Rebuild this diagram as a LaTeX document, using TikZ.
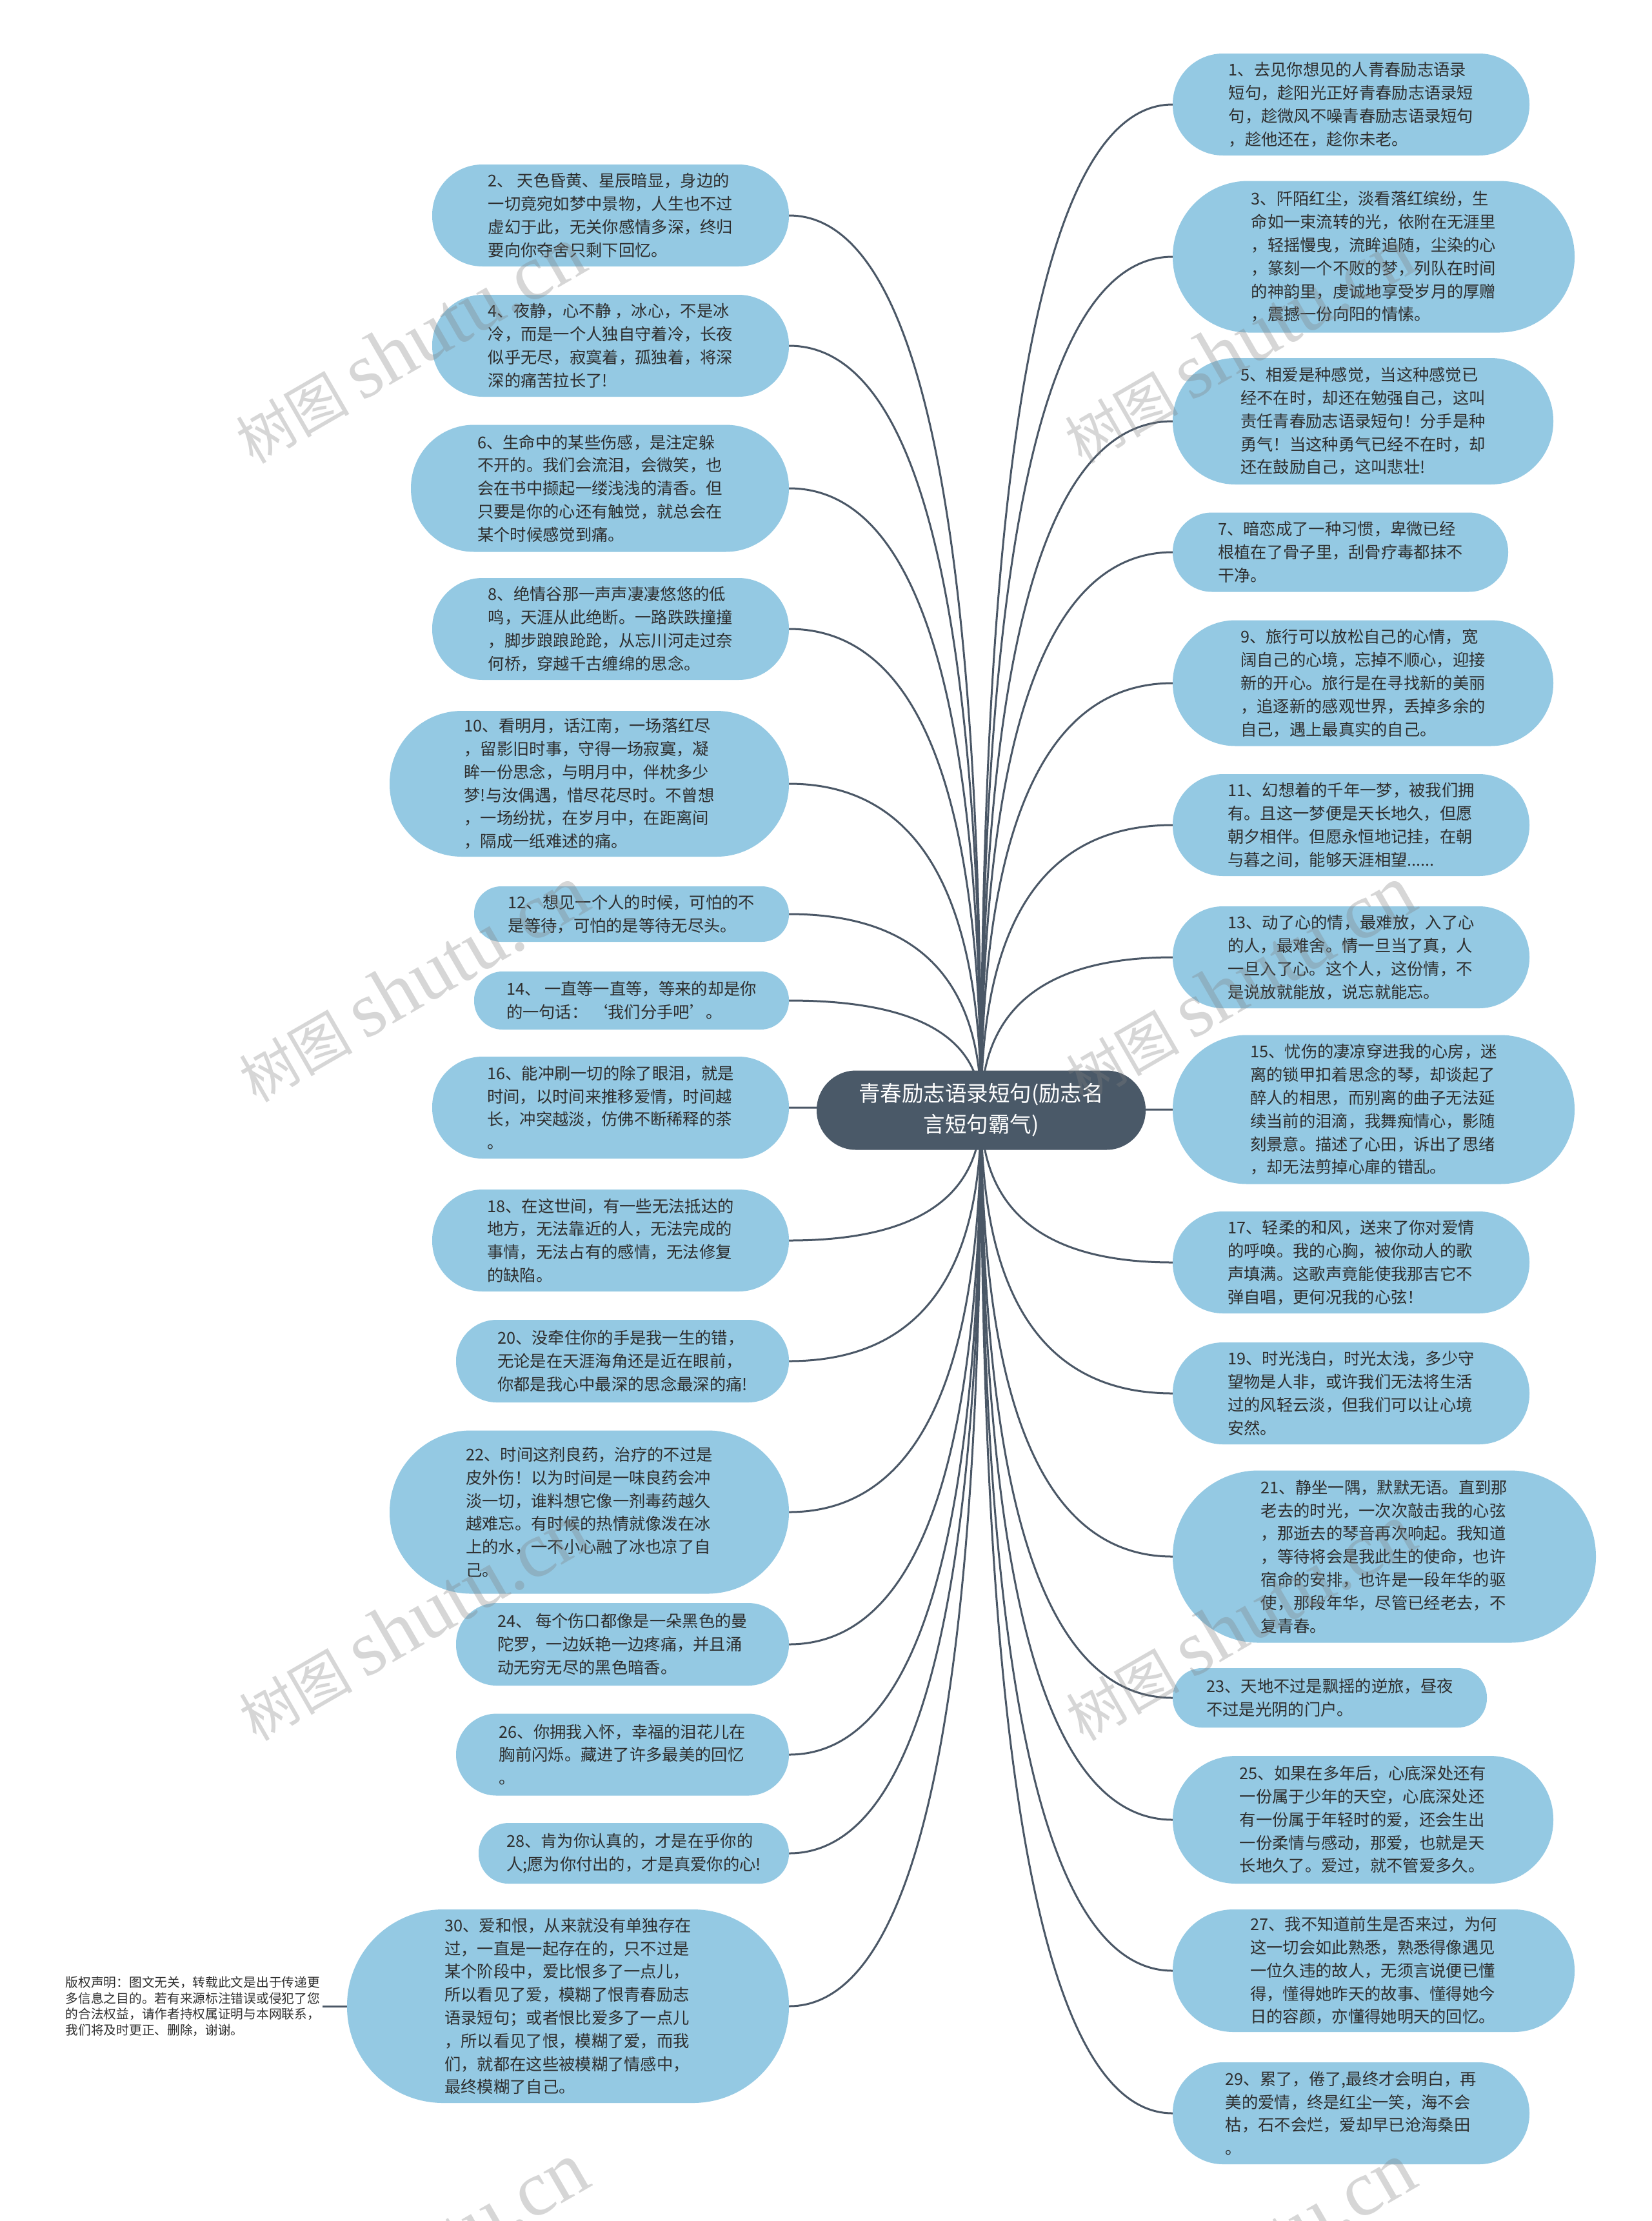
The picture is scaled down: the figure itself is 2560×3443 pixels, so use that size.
\documentclass[tikz,border=0pt]{standalone}
\usepackage{fontspec}
\setmainfont{Noto Sans CJK SC}
\newfontfamily\wmfont{Liberation Serif}
\usetikzlibrary{calc}
\pgfdeclarelayer{background}
\pgfsetlayers{background,main}
\definecolor{boxblue}{HTML}{94C9E3}
\definecolor{centerfill}{HTML}{4A5968}
\definecolor{linecol}{HTML}{4A5766}
\definecolor{txtc}{HTML}{2E2E2E}
\newcommand\leaffont{\fontsize{25.3pt}{35.8pt}\selectfont}
\newcommand\linkR[1]{\draw[link] (c.center) .. controls ($(c.center)!0.667!(c.center |- #1.west)$) and ($(#1.west)!0.667!(c.center |- #1.west)$) .. (#1.west);}
\newcommand\linkL[1]{\draw[link] (c.center) .. controls ($(c.center)!0.667!(c.center |- #1.east)$) and ($(#1.east)!0.667!(c.center |- #1.east)$) .. (#1.east);}
\tikzset{
  leaf/.style={fill=boxblue, draw=none, text=txtc, font=\leaffont, align=left, inner sep=0pt},
  dims/.style n args={3}{minimum width=#1pt, minimum height=#2pt, rounded corners=#3pt},
  link/.style={draw=linecol, line width=3pt},
  root/.style={fill=centerfill, text=white, font=\fontsize{33.5pt}{48pt}\selectfont, align=center, inner sep=0pt},
  cpy/.style={text=txtc, font=\fontsize{19.7pt}{24.5pt}\selectfont, align=left, inner sep=4pt},
  wm/.style={text=gray, opacity=0.32, rotate=30, inner sep=0pt}
}
\begin{document}
\begin{tikzpicture}[x=1pt,y=-1pt]
\useasboundingbox (0,0) rectangle (2560,3443);
\begin{pgfonlayer}{background}
\fill[white] (0,0) rectangle (2560,3443);
\end{pgfonlayer}

% center
\node[root, dims={510}{123}{61}] (c) at (1521,1721) {青春励志语录短句(励志名\\言短句霸气)};

% left nodes
\node[leaf, dims={553}{158}{78}] (n2) at (946.5,334) {2、 天色昏黄、星辰暗显，身边的\\一切竟宛如梦中景物，人生也不过\\虚幻于此，无关你感情多深，终归\\要向你夺舍只剩下回忆。};
\node[leaf, dims={553}{158}{78}] (n4) at (946.5,536) {4、夜静，心不静 ，冰心，不是冰\\冷，而是一个人独自守着冷，长夜\\似乎无尽，寂寞着，孤独着，将深\\深的痛苦拉长了!};
\node[leaf, dims={586}{197}{98}] (n6) at (930,757) {6、生命中的某些伤感，是注定躲\\不开的。我们会流泪，会微笑，也\\会在书中撷起一缕浅浅的清香。但\\只要是你的心还有触觉，就总会在\\某个时候感觉到痛。};
\node[leaf, dims={553}{158}{78}] (n8) at (946.5,975) {8、绝情谷那一声声凄凄悠悠的低\\鸣，天涯从此绝断。一路跌跌撞撞\\，脚步踉踉跄跄，从忘川河走过奈\\何桥，穿越千古缠绵的思念。};
\node[leaf, dims={619}{226}{112}] (n10) at (913.5,1215) {10、看明月，话江南，一场落红尽\\，留影旧时事，守得一场寂寞，凝\\眸一份思念，与明月中，伴枕多少\\梦!与汝偶遇，惜尽花尽时。不曾想\\，一场纷扰，在岁月中，在距离间\\，隔成一纸难述的痛。};
\node[leaf, dims={488}{86}{42}] (n12) at (979,1417) {12、想见一个人的时候，可怕的不\\是等待，可怕的是等待无尽头。};
\node[leaf, dims={488}{90}{44}] (n14) at (979,1551) {14、 一直等一直等，等来的却是你\\的一句话：\ ‘我们分手吧’。};
\node[leaf, dims={553}{158}{78}] (n16) at (946.5,1717) {16、能冲刷一切的除了眼泪，就是\\时间，以时间来推移爱情，时间越\\长，冲突越淡，仿佛不断稀释的茶\\。};
\node[leaf, dims={553}{158}{78}] (n18) at (946.5,1923) {18、在这世间，有一些无法抵达的\\地方，无法靠近的人，无法完成的\\事情，无法占有的感情，无法修复\\的缺陷。};
\node[leaf, dims={516}{128}{63}] (n20) at (965,2110) {20、没牵住你的手是我一生的错，\\无论是在天涯海角还是近在眼前，\\你都是我心中最深的思念最深的痛!};
\node[leaf, dims={619}{253}{126}] (n22) at (913.5,2344) {22、时间这剂良药，治疗的不过是\\皮外伤！以为时间是一味良药会冲\\淡一切，谁料想它像一剂毒药越久\\越难忘。有时候的热情就像泼在冰\\上的水，一不小心融了冰也凉了自\\己。};
\node[leaf, dims={516}{128}{63}] (n24) at (965,2549) {24、 每个伤口都像是一朵黑色的曼\\陀罗，一边妖艳一边疼痛，并且涌\\动无穷无尽的黑色暗香。};
\node[leaf, dims={516}{127}{63}] (n26) at (965,2720) {26、你拥我入怀，幸福的泪花儿在\\胸前闪烁。藏进了许多最美的回忆\\。};
\node[leaf, dims={481}{94}{46}] (n28) at (982.5,2873) {28、肯为你认真的，才是在乎你的\\人;愿为你付出的，才是真爱你的心!};
\node[leaf, dims={685}{300}{149}] (n30) at (880.5,3110) {30、爱和恨，从来就没有单独存在\\过，一直是一起存在的，只不过是\\某个阶段中，爱比恨多了一点儿，\\所以看见了爱，模糊了恨青春励志\\语录短句；或者恨比爱多了一点儿\\，所以看见了恨，模糊了爱，而我\\们，就都在这些被模糊了情感中，\\最终模糊了自己。};

% right nodes
\node[leaf, dims={553}{158}{78}] (n1) at (2094.5,162) {1、去见你想见的人青春励志语录\\短句，趁阳光正好青春励志语录短\\句，趁微风不噪青春励志语录短句\\，趁他还在，趁你未老。};
\node[leaf, dims={623}{235}{117}] (n3) at (2129.5,398) {3、阡陌红尘，淡看落红缤纷，生\\命如一束流转的光，依附在无涯里\\，轻摇慢曳，流眸追随，尘染的心\\，篆刻一个不败的梦，列队在时间\\的神韵里，虔诚地享受岁月的厚赠\\，震撼一份向阳的情愫。};
\node[leaf, dims={590}{196}{97}] (n5) at (2113,653) {5、相爱是种感觉，当这种感觉已\\经不在时，却还在勉强自己，这叫\\责任青春励志语录短句！分手是种\\勇气！当这种勇气已经不在时，却\\还在鼓励自己，这叫悲壮!};
\node[leaf, dims={520}{123}{61}] (n7) at (2078,856) {7、暗恋成了一种习惯，卑微已经\\根植在了骨子里，刮骨疗毒都抹不\\干净。};
\node[leaf, dims={590}{195}{97}] (n9) at (2113,1059) {9、旅行可以放松自己的心情，宽\\阔自己的心境，忘掉不顺心，迎接\\新的开心。旅行是在寻找新的美丽\\，追逐新的感观世界，丢掉多余的\\自己，遇上最真实的自己。};
\node[leaf, dims={553}{158}{78}] (n11) at (2094.5,1279) {11、幻想着的千年一梦，被我们拥\\有。且这一梦便是天长地久，但愿\\朝夕相伴。但愿永恒地记挂，在朝\\与暮之间，能够天涯相望......};
\node[leaf, dims={553}{158}{78}] (n13) at (2094.5,1484) {13、动了心的情，最难放，入了心\\的人，最难舍。情一旦当了真，人\\一旦入了心。这个人，这份情，不\\是说放就能放，说忘就能忘。};
\node[leaf, dims={623}{231}{115}] (n15) at (2129.5,1720) {15、忧伤的凄凉穿进我的心房，迷\\离的锁甲扣着思念的琴，却谈起了\\醉人的相思，而别离的曲子无法延\\续当前的泪滴，我舞痴情心，影随\\刻景意。描述了心田，诉出了思绪\\，却无法剪掉心扉的错乱。};
\node[leaf, dims={553}{158}{78}] (n17) at (2094.5,1957) {17、轻柔的和风，送来了你对爱情\\的呼唤。我的心胸，被你动人的歌\\声填满。这歌声竟能使我那吉它不\\弹自唱，更何况我的心弦！};
\node[leaf, dims={553}{158}{78}] (n19) at (2094.5,2160) {19、时光浅白，时光太浅，多少守\\望物是人非，或许我们无法将生活\\过的风轻云淡，但我们可以让心境\\安然。};
\node[leaf, dims={656}{267}{133}] (n21) at (2146,2413) {21、静坐一隅，默默无语。直到那\\老去的时光，一次次敲击我的心弦\\，那逝去的琴音再次响起。我知道\\，等待将会是我此生的使命，也许\\宿命的安排，也许是一段年华的驱\\使，那段年华，尽管已经老去，不\\复青春。};
\node[leaf, dims={487}{92}{45}] (n23) at (2061.5,2632) {23、天地不过是飘摇的逆旅，昼夜\\不过是光阴的门户。};
\node[leaf, dims={590}{198}{98}] (n25) at (2113,2821) {25、如果在多年后，心底深处还有\\一份属于少年的天空，心底深处还\\有一份属于年轻时的爱，还会生出\\一份柔情与感动，那爱，也就是天\\长地久了。爱过，就不管爱多久。};
\node[leaf, dims={623}{190}{94}] (n27) at (2129.5,3055) {27、我不知道前生是否来过，为何\\这一切会如此熟悉，熟悉得像遇见\\一位久违的故人，无须言说便已懂\\得，懂得她昨天的故事、懂得她今\\日的容颜，亦懂得她明天的回忆。};
\node[leaf, dims={553}{158}{78}] (n29) at (2094.5,3276) {29、累了，倦了,最终才会明白，再\\美的爱情，终是红尘一笑，海不会\\枯，石不会烂，爱却早已沧海桑田\\。};

% copyright
\node[cpy, anchor=east] (cp) at (500,3110) {版权声明：图文无关，转载此文是出于传递更\\多信息之目的。若有来源标注错误或侵犯了您\\的合法权益，请作者持权属证明与本网联系，\\我们将及时更正、删除，谢谢。};

\begin{pgfonlayer}{background}
\foreach \k in {n2,n4,n6,n8,n10,n12,n14,n16,n18,n20,n22,n24,n26,n28,n30} {\linkL{\k}}
\foreach \k in {n1,n3,n5,n7,n9,n11,n13,n15,n17,n19,n21,n23,n25,n27,n29} {\linkR{\k}}
\draw[link] (cp.east) -- (n30.west);
\end{pgfonlayer}

% watermarks
\foreach \wx/\wy [count=\i] in {635/535, 1920/535, 640/1525, 1922/1525, 640/2515, 1922/2515, 640/3505, 1922/3505} {
  \node[wm] (wm\i) at (\wx,\wy) {\fontsize{88pt}{88pt}\selectfont 树图 {\wmfont\fontsize{122pt}{122pt}\selectfont shutu.cn}};
}
\end{tikzpicture}
\end{document}
